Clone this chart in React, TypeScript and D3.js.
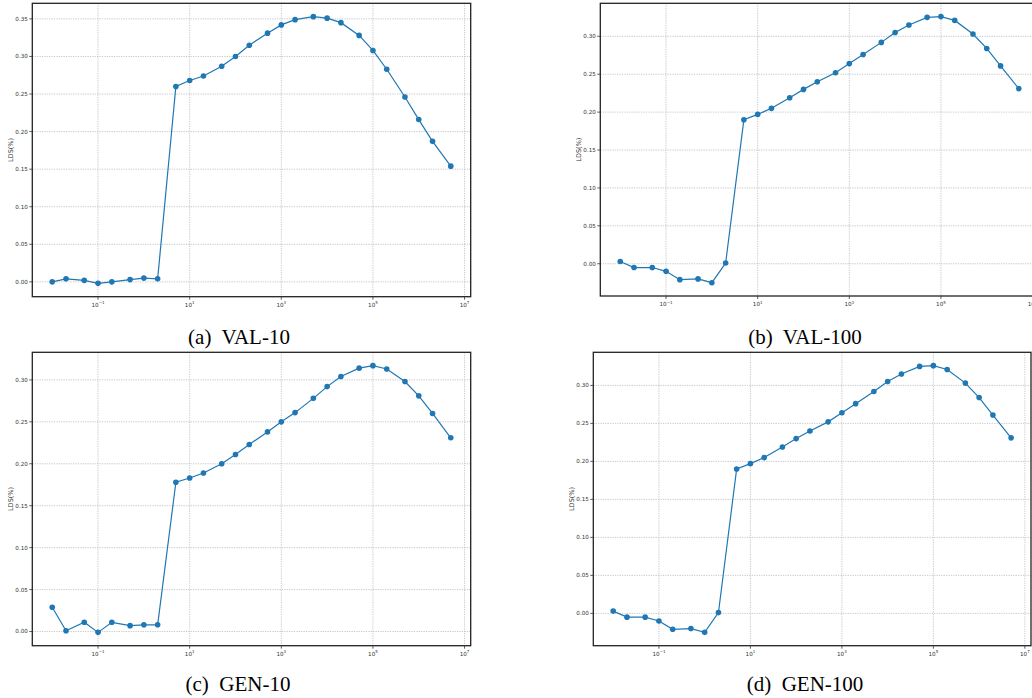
import React from 'react'
import * as d3 from 'd3'

// shared x positions (1-2-5 steps)
const xValues = [0.01, 0.02, 0.05, 0.1, 0.2, 0.5, 1, 2, 5, 10, 20, 50, 100, 200, 500, 1e3, 2e3, 5e3, 1e4, 2e4, 5e4, 1e5, 2e5, 5e5, 1e6, 2e6, 5e6]

const val10 = [0.000, 0.004, 0.002, -0.002, 0.000, 0.003, 0.005, 0.004, 0.260, 0.268, 0.274, 0.287, 0.300, 0.315, 0.331, 0.342, 0.349, 0.353, 0.351, 0.345, 0.328, 0.308, 0.283, 0.246, 0.216, 0.187, 0.154]
const val100 = [0.003, -0.005, -0.005, -0.010, -0.021, -0.020, -0.025, 0.001, 0.190, 0.197, 0.205, 0.219, 0.230, 0.240, 0.252, 0.264, 0.276, 0.292, 0.305, 0.315, 0.325, 0.326, 0.321, 0.303, 0.284, 0.261, 0.231]
const gen10 = [0.029, 0.001, 0.011, -0.001, 0.011, 0.007, 0.008, 0.008, 0.178, 0.183, 0.189, 0.200, 0.211, 0.223, 0.238, 0.250, 0.261, 0.278, 0.292, 0.304, 0.314, 0.317, 0.313, 0.298, 0.281, 0.260, 0.231]
const gen100 = [0.003, -0.005, -0.005, -0.010, -0.021, -0.020, -0.025, 0.001, 0.190, 0.197, 0.205, 0.219, 0.230, 0.240, 0.252, 0.264, 0.276, 0.292, 0.305, 0.315, 0.325, 0.326, 0.321, 0.303, 0.284, 0.261, 0.231]

const xTicks = [0.1, 10, 1e3, 1e5, 1e7]
const xTickExp = ['\u22121', '1', '3', '5', '7']

const captions = ['(a)  VAL-10', '(b)  VAL-100', '(c)  GEN-10', '(d)  GEN-100']

const blue = '#1f77b4'
const gridColor = '#b8b8b8'

type Box = { left: number; top: number; right: number; bottom: number }

type PanelProps = {
  data: number[]
  box: Box
  yLabelX: number
  caption: string
  capX: number
  capY: number
  id: string
}

const Panel = ({ data, box, yLabelX, caption, capX, capY, id }: PanelProps) => {
  const lx = d3.extent(xValues.map((v) => Math.log10(v))) as [number, number]
  const px = (lx[1] - lx[0]) * 0.05
  const x = d3.scaleLog()
    .domain([10 ** (lx[0] - px), 10 ** (lx[1] + px)])
    .range([box.left, box.right])

  const [lo, hi] = d3.extent(data) as [number, number]
  const py = (hi - lo) * 0.05
  const y = d3.scaleLinear()
    .domain([lo - py, hi + py])
    .range([box.bottom, box.top])

  const yTicks = d3.range(0, 0.4, 0.05).filter((t) => t <= hi + py + 1e-9)
  const visibleX = xTicks.filter((t) => x(t) <= box.right + 0.5)

  const line = d3.line<number>()
    .x((_, i) => x(xValues[i]))
    .y((d) => y(d))

  return (
    <g>
      <defs>
        <clipPath id={id}>
          <rect x={box.left} y={box.top} width={box.right - box.left} height={box.bottom - box.top} />
        </clipPath>
      </defs>
      {/* grid */}
      <g stroke={gridColor} strokeWidth={0.8} strokeDasharray="1.2,1.2">
        {yTicks.map((t) => (
          <line key={`gy${t}`} x1={box.left} x2={box.right} y1={y(t)} y2={y(t)} />
        ))}
        {visibleX.map((t) => (
          <line key={`gx${t}`} x1={x(t)} x2={x(t)} y1={box.top} y2={box.bottom} />
        ))}
      </g>
      {/* series */}
      <g clipPath={`url(#${id})`}>
        <path d={line(data) || ''} fill="none" stroke={blue} strokeWidth={1.2} />
        {data.map((d, i) => (
          <circle key={i} cx={x(xValues[i])} cy={y(d)} r={2.8} fill={blue} />
        ))}
      </g>
      {/* spines */}
      <rect x={box.left} y={box.top} width={box.right - box.left} height={box.bottom - box.top}
        fill="none" stroke="#222" strokeWidth={1.3} />
      {/* ticks */}
      <g fontFamily="DejaVu Sans" fontSize={5.6} fill="#333">
        {yTicks.map((t) => (
          <g key={`ty${t}`}>
            <line x1={box.left - 3} x2={box.left} y1={y(t)} y2={y(t)} stroke="#333" strokeWidth={0.8} />
            <text x={box.left - 4.5} y={y(t)} dy="0.35em" textAnchor="end">{t.toFixed(2)}</text>
          </g>
        ))}
        {visibleX.map((t) => (
          <g key={`tx${t}`}>
            <line x1={x(t)} x2={x(t)} y1={box.bottom} y2={box.bottom + 3} stroke="#333" strokeWidth={0.8} />
            <text x={x(t)} y={box.bottom + 10} textAnchor="middle">
              10<tspan fontSize={4} dy={-2.5}>{xTickExp[xTicks.indexOf(t)]}</tspan>
            </text>
          </g>
        ))}
      </g>
      <text transform={`translate(${yLabelX},${(box.top + box.bottom) / 2}) rotate(-90)`}
        textAnchor="middle" fontFamily="DejaVu Sans" fontSize={6.5} fill="#333" dy="0.35em">LDS(%)</text>
      <text x={capX} y={capY} textAnchor="middle" fontFamily="Liberation Serif" fontSize={21}
        fill="#000" style={{ whiteSpace: 'pre' }}>{caption}</text>
    </g>
  )
}

const App = () => (
  <div style={{ position: 'absolute', left: 0, top: 0 }}>
    <svg width={1032} height={698} style={{ display: 'block', background: '#fff' }}>
      <Panel id="pa" data={val10} box={{ left: 32.3, top: 3.3, right: 470.7, bottom: 296.7 }}
        yLabelX={11} caption={captions[0]} capX={239} capY={344} />
      <Panel id="pb" data={val100} box={{ left: 600.3, top: 3.3, right: 1038.7, bottom: 296 }}
        yLabelX={579} caption={captions[1]} capX={805} capY={344} />
      <Panel id="pc" data={gen10} box={{ left: 32.3, top: 352.3, right: 470.7, bottom: 645.7 }}
        yLabelX={11} caption={captions[2]} capX={238} capY={691} />
      <Panel id="pd" data={gen100} box={{ left: 593.3, top: 352.3, right: 1031, bottom: 645.7 }}
        yLabelX={572} caption={captions[3]} capX={805} capY={691} />
    </svg>
  </div>
)

export default App
